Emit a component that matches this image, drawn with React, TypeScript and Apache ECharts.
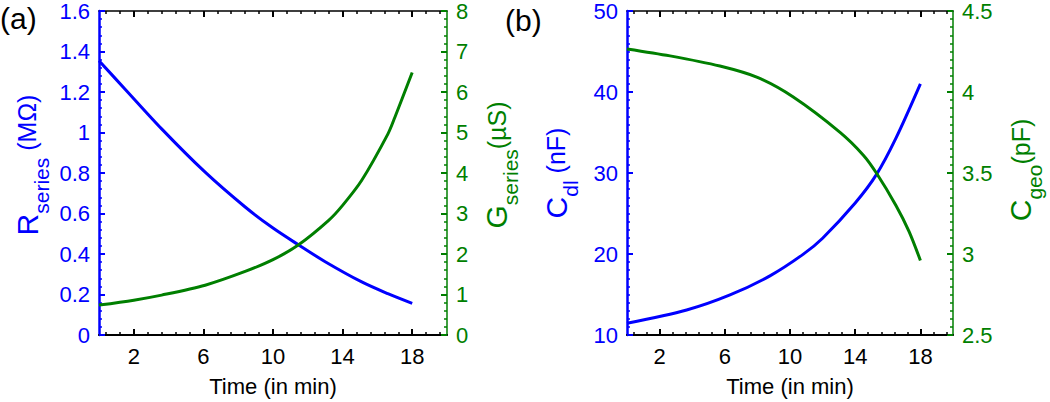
import React, { useEffect, useRef } from "react";
import * as echarts from "echarts";

// ---- data ----
const timeR = [0, 1.5, 3.6, 6.1, 8.4, 10, 11.45, 13, 15.1, 16.6, 18];
const rSeries = [1.354, 1.214, 1.018, 0.804, 0.632, 0.528, 0.446, 0.362, 0.262, 0.204, 0.156];

const timeG = [0, 2, 3.6, 6.1, 8.4, 10, 11.45, 13.2, 14, 15.1, 16.6, 17, 18];
const gSeries = [0.738, 0.86, 0.985, 1.23, 1.57, 1.86, 2.22, 2.83, 3.2, 3.82, 4.96, 5.37, 6.48];

const timeCdl = [0, 3.66, 6.32, 8.77, 10.8, 12, 14, 15.3, 16.5, 18];
const cdlSeries = [11.44, 13.08, 14.94, 17.3, 19.95, 21.95, 26.3, 29.8, 34.3, 41];

const timeCgeo = [0, 2.64, 5.7, 8, 10.2, 13.07, 14.5, 15.3, 16.5, 17.3, 18];
const cgeoSeries = [4.266, 4.223, 4.16, 4.09, 3.969, 3.751, 3.61, 3.5, 3.3, 3.14, 2.96];

const xMajorTicks = [2, 6, 10, 14, 18];
const xMinorTicks = [0.4, 1.2, 2.8, 3.6, 4.4, 5.2, 6.8, 7.6, 8.4, 9.2, 10.8, 11.6, 12.4, 13.2, 14.8, 15.6, 16.4, 17.2, 18.8, 19.6];

const BLUE = "#0000ff";
const GREEN = "#007f00";
const BLACK = "#000000";
const FONT = "'Liberation Sans', Arial, sans-serif";

function pairs(xs: number[], ys: number[]) {
  return xs.map((x, i) => [x, ys[i]]);
}

function xAxesFor(g: number) {
  const base = { type: "value", gridIndex: g, min: 0, max: 20, splitLine: { show: false } };
  return [
    {
      ...base,
      position: "bottom",
      axisLine: { show: true, onZero: false, lineStyle: { color: BLACK, width: 2 } },
      axisTick: { show: true, inside: true, length: 6, customValues: xMajorTicks, lineStyle: { color: BLACK, width: 2 } },
      axisLabel: { show: true, customValues: xMajorTicks, color: BLACK, fontSize: 22, fontFamily: FONT, margin: 10 },
      name: "Time (in min)",
      nameLocation: "middle",
      nameGap: 40,
      nameTextStyle: { color: BLACK, fontSize: 22, fontFamily: FONT },
    },
    {
      ...base,
      position: "bottom",
      axisLine: { show: false, onZero: false },
      axisTick: { show: true, inside: true, length: 3, customValues: xMinorTicks, lineStyle: { color: BLACK, width: 1.5 } },
      axisLabel: { show: false },
    },
    {
      ...base,
      position: "top",
      axisLine: { show: true, onZero: false, lineStyle: { color: BLACK, width: 1.5 } },
      axisTick: { show: true, inside: true, length: 6, customValues: xMajorTicks, lineStyle: { color: BLACK, width: 2 } },
      axisLabel: { show: false },
    },
    {
      ...base,
      position: "top",
      axisLine: { show: false, onZero: false },
      axisTick: { show: true, inside: true, length: 3, customValues: xMinorTicks, lineStyle: { color: BLACK, width: 1.5 } },
      axisLabel: { show: false },
    },
  ];
}

function yAxis(
  g: number,
  pos: string,
  color: string,
  min: number,
  max: number,
  interval: number,
  minorSplit: number,
  name: string,
  nameGap: number,
  lead: number,
  unitGap: number,
  lineWidth: number
) {
  return {
    type: "value",
    gridIndex: g,
    position: pos,
    min,
    max,
    interval,
    splitLine: { show: false },
    axisLine: { show: true, onZero: false, lineStyle: { color, width: lineWidth } },
    axisTick: { show: true, inside: true, length: 6, lineStyle: { color, width: 2 } },
    minorTick: { show: true, splitNumber: minorSplit, length: 3, lineStyle: { color, width: 1.5 } },
    axisLabel: { color, fontSize: 22, fontFamily: FONT, margin: 9 },
    name,
    nameLocation: "middle",
    nameRotate: 90,
    nameGap,
    nameTextStyle: {
      color,
      fontFamily: FONT,
      rich: {
        m: { fontSize: 30, lineHeight: 30, color, fontFamily: FONT, padding: [0, 0, 0, lead] },
        s: { fontSize: 21, lineHeight: 21, color, fontFamily: FONT, padding: [28, 0, 0, 0] },
        u: { fontSize: 25, lineHeight: 25, color, fontFamily: FONT, padding: [0, 0, 0, unitGap] },
      },
    },
  };
}

function lineSeries(xi: number, yi: number, xs: number[], ys: number[], color: string) {
  return {
    type: "line",
    xAxisIndex: xi,
    yAxisIndex: yi,
    data: pairs(xs, ys),
    showSymbol: false,
    smooth: 0.3,
    lineStyle: { color, width: 3 },
    itemStyle: { color },
  };
}

export default function App() {
  const ref = useRef<HTMLDivElement>(null);
  useEffect(() => {
    if (!ref.current) return;
    const chart = echarts.init(ref.current, undefined, { renderer: "svg" });
    const option = {
      animation: false,
      backgroundColor: "#ffffff",
      grid: [
        { left: 99, top: 10, width: 348, height: 325, containLabel: false },
        { left: 627, top: 10, width: 326, height: 325, containLabel: false },
      ],
      xAxis: [...xAxesFor(0), ...xAxesFor(1)],
      yAxis: [
        yAxis(0, "left", BLUE, 0, 1.6, 0.2, 5, "{m|R}{s|series}{u|(MΩ)}", 57, 16, 7, 2.5),
        yAxis(0, "right", GREEN, 0, 8, 1, 5, "{m|G}{s|series}{u|(µS)}", 22, 16, 0, 1.5),
        yAxis(1, "left", BLUE, 10, 50, 10, 10, "{m|C}{s|dl}{u|(nF)}", 56, 0, 7, 2.5),
        yAxis(1, "right", GREEN, 2.5, 4.5, 0.5, 10, "{m|C}{s|geo}{u|(pF)}", 42, 6, 0, 1.5),
      ],
      series: [
        lineSeries(0, 0, timeR, rSeries, BLUE),
        lineSeries(0, 1, timeG, gSeries, GREEN),
        lineSeries(4, 2, timeCdl, cdlSeries, BLUE),
        lineSeries(4, 3, timeCgeo, cgeoSeries, GREEN),
      ],
      graphic: [
        { type: "text", left: 0, top: 3, style: { text: "(a)", fontSize: 30, fontFamily: FONT, fill: BLACK } },
        { type: "text", left: 505, top: 5, style: { text: "(b)", fontSize: 30, fontFamily: FONT, fill: BLACK } },
      ],
    };
    chart.setOption(option as any);
    return () => chart.dispose();
  }, []);
  return (
    <div
      ref={ref}
      style={{ position: "absolute", left: 0, top: 0, width: 1050, height: 402, background: "#fff" }}
    />
  );
}
